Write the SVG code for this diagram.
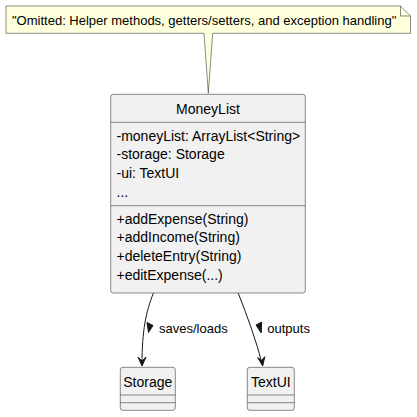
<svg xmlns="http://www.w3.org/2000/svg" width="417" height="417" viewBox="0 0 417 417">
<defs>
<style>
text{font-family:"Liberation Sans",Arial,sans-serif;fill:#000}
.cls{fill:#F1F1F1;stroke:#181818;stroke-width:0.5}
.sep{stroke:#181818;stroke-width:0.5;fill:none}
.note{fill:#FEFFDD;stroke:#181818;stroke-width:0.5}
.t14{font-size:14px}
.t13{font-size:13px}
.edge{fill:none;stroke:#181818;stroke-width:1}
.head{fill:#181818;stroke:#181818;stroke-width:1}
</style>
</defs>
<rect width="417" height="417" fill="#FFFFFF"/>
<g id="note">
<path class="note" d="M6,6 L400.5,6 L410.5,16 L410.5,33.3 L212.7,33.3 L208.3,93.3 L204,33.3 L6,33.3 Z"/>
<path class="sep" d="M400.5,6 L400.5,16 L410.5,16"/>
<text class="t13" x="12" y="24.5">"Omitted: Helper methods, getters/setters, and exception handling"</text>
</g>
<g id="MoneyList">
<rect class="cls" x="110.7" y="94.3" width="194.6" height="198.7" rx="2.5" ry="2.5"/>
<line class="sep" x1="110.7" y1="122.3" x2="305.3" y2="122.3"/>
<line class="sep" x1="110.7" y1="205.7" x2="305.3" y2="205.7"/>
<text class="t14" x="208" y="114" text-anchor="middle">MoneyList</text>
<text class="t14" x="116.5" y="140.5">-moneyList: ArrayList&lt;String&gt;</text>
<text class="t14" x="116.5" y="159.4">-storage: Storage</text>
<text class="t14" x="116.5" y="178.2">-ui: TextUI</text>
<text class="t14" x="116.5" y="197">...</text>
<text class="t14" x="116.5" y="223.5">+addExpense(String)</text>
<text class="t14" x="116.5" y="242.4">+addIncome(String)</text>
<text class="t14" x="116.5" y="261.2">+deleteEntry(String)</text>
<text class="t14" x="116.5" y="280">+editExpense(...)</text>
</g>
<g id="Storage">
<rect class="cls" x="120.3" y="367.3" width="55" height="43" rx="2.5" ry="2.5"/>
<line class="sep" x1="120.3" y1="395" x2="175.3" y2="395"/>
<line class="sep" x1="120.3" y1="402.7" x2="175.3" y2="402.7"/>
<text class="t14" x="147.8" y="387" text-anchor="middle">Storage</text>
</g>
<g id="TextUI">
<rect class="cls" x="247.3" y="367.3" width="47" height="43" rx="2.5" ry="2.5"/>
<line class="sep" x1="247.3" y1="395" x2="294.3" y2="395"/>
<line class="sep" x1="247.3" y1="402.7" x2="294.3" y2="402.7"/>
<text class="t14" x="270.8" y="387" text-anchor="middle">TextUI</text>
</g>
<g id="connectors">
<path class="edge" d="M153.3,293.3 C146,312 142,330 142,365"/>
<polygon class="head" points="138,357 142,366 146,357 142,361"/>
<polygon class="head" points="147,322.5 153,325.5 148.5,332.5"/>
<text class="t13" x="159" y="332.7">saves/loads</text>
<path class="edge" d="M238.3,293.3 C248,318 256,340 262.5,365"/>
<polygon class="head" points="257.7,357.6 262.7,366 264.8,356.7 261.5,360.5"/>
<polygon class="head" points="256,325 261.7,322 261.2,333"/>
<text class="t13" x="267.3" y="332.7">outputs</text>
</g>
</svg>
